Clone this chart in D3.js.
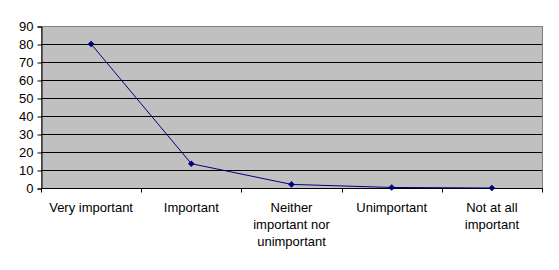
<!DOCTYPE html>
<html>
<head>
<meta charset="utf-8">
<script src="https://cdn.jsdelivr.net/npm/d3@7"></script>
<style>
  body { margin: 0; background: #fff; }
  text { font-family: Arial, "Liberation Sans", sans-serif; font-size: 13px; fill: #000; }
</style>
</head>
<body>
<div id="chart"></div>
<script>
var categories = ["Very important", "Important", "Neither important nor unimportant", "Unimportant", "Not at all important"];
var labelLines = [["Very important"], ["Important"], ["Neither", "important nor", "unimportant"], ["Unimportant"], ["Not at all", "important"]];
var values = [80, 13.5, 2, 0.3, 0];
var yTicks = [0, 10, 20, 30, 40, 50, 60, 70, 80, 90];

var width = 559, height = 270;
var plotLeft = 41, plotRight = 542, plotTop = 26, plotBottom = 188;

var svg = d3.select("#chart").append("svg")
    .attr("width", width)
    .attr("height", height);

var x = d3.scaleBand().domain(categories).range([plotLeft, plotRight]);
var y = d3.scaleLinear().domain([0, 90]).range([plotBottom, plotTop]);

// plot area
svg.append("rect")
    .attr("x", plotLeft + 0.5).attr("y", plotTop + 0.5)
    .attr("width", plotRight - plotLeft).attr("height", plotBottom - plotTop)
    .attr("fill", "#c0c0c0")
    .attr("stroke", "#808080");

// gridlines
svg.append("g").selectAll("line")
    .data(yTicks.filter(function(d) { return d > 0; }))
    .enter().append("line")
    .attr("x1", plotLeft).attr("x2", plotRight)
    .attr("y1", function(d) { return Math.round(y(d)) + 0.5; })
    .attr("y2", function(d) { return Math.round(y(d)) + 0.5; })
    .attr("stroke", function(d) { return d === 90 ? "#808080" : "#000"; });

// y axis
var yAxis = d3.axisLeft(y).tickValues(yTicks).tickSize(4).tickPadding(4);
var gy = svg.append("g")
    .attr("transform", "translate(" + (plotLeft + 0.5) + ",0.5)")
    .call(yAxis);
gy.select(".domain").attr("stroke", "#000");
gy.attr("font-family", null).attr("font-size", null);

// x axis
var gx = svg.append("g")
    .attr("transform", "translate(0," + (plotBottom + 0.5) + ")");
gx.append("line")
    .attr("x1", plotLeft).attr("x2", plotRight + 1)
    .attr("stroke", "#000");
gx.selectAll(".tick")
    .data(categories.concat(["end"]))
    .enter().append("line")
    .attr("x1", function(d, i) { return Math.round(plotLeft + i * x.bandwidth()) + 0.5; })
    .attr("x2", function(d, i) { return Math.round(plotLeft + i * x.bandwidth()) + 0.5; })
    .attr("y1", 0).attr("y2", 4)
    .attr("stroke", "#000");

var lbl = gx.selectAll(".lbl")
    .data(categories)
    .enter().append("text")
    .attr("text-anchor", "middle")
    .attr("y", 23);
lbl.each(function(d, i) {
    var t = d3.select(this);
    labelLines[i].forEach(function(s, j) {
        t.append("tspan")
            .attr("x", x(d) + x.bandwidth() / 2)
            .attr("dy", j === 0 ? 0 : 17)
            .text(s);
    });
});

// line
var line = d3.line()
    .x(function(d, i) { return x(categories[i]) + x.bandwidth() / 2; })
    .y(function(d) { return y(d); });

svg.append("path")
    .datum(values)
    .attr("d", line)
    .attr("fill", "none")
    .attr("stroke", "#000080")
    .attr("stroke-width", 1);

// diamond markers (square turned 45 degrees)
svg.append("g").selectAll("path")
    .data(values)
    .enter().append("path")
    .attr("d", d3.symbol().type(d3.symbolSquare).size(22))
    .attr("transform", function(d, i) {
        return "translate(" + (x(categories[i]) + x.bandwidth() / 2) + "," + y(d) + ") rotate(45)";
    })
    .attr("fill", "#000080");
</script>
</body>
</html>
